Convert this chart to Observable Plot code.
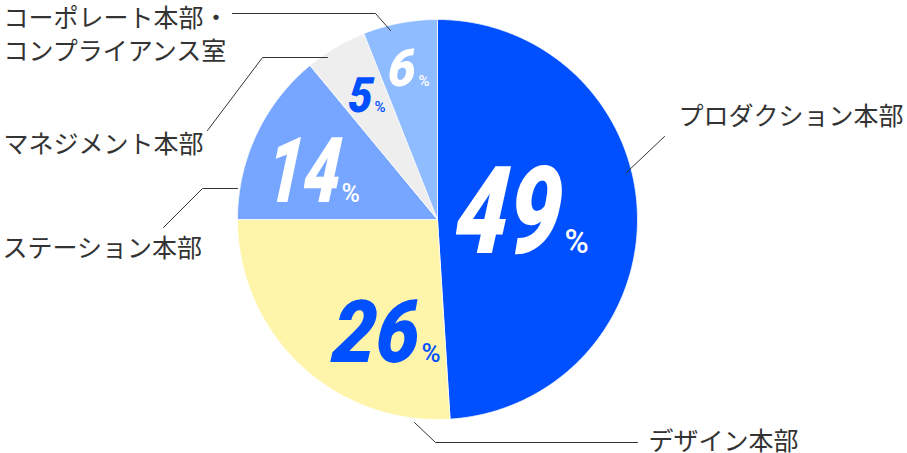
<!DOCTYPE html>
<html>
<head>
<meta charset="utf-8">
<script src="https://cdn.jsdelivr.net/npm/d3@7"></script>
<script src="https://cdn.jsdelivr.net/npm/@observablehq/plot@0.6"></script>
<style>
  html, body { margin: 0; padding: 0; background: #fff; }
  #chart svg { display: block; }
</style>
</head>
<body>
<div id="chart"></div>
<script>
// ---- data ----
const categories = ["プロダクション本部", "デザイン本部", "ステーション本部", "マネジメント本部", "コーポレート本部・\nコンプライアンス室"];
const shares = [49, 26, 14, 5, 6];
const sliceColors = ["#0050ff", "#fff5aa", "#76a6ff", "#eeeeee", "#8fbbff"];
const valueColors = ["#ffffff", "#0050ff", "#ffffff", "#0050ff", "#ffffff"];

// ---- layout (offsets from pie centre, pixels) ----
const R = 200;
const numberLayout = [
  {end: 121, base: 33, size: 122, sx: 0.77, pctSize: 33, gap: 6},
  {end: -20, base: 142, size: 87, sx: 0.89, pctSize: 26, gap: 4},
  {end: -99, base: -18, size: 91, sx: 0.72, pctSize: 25, gap: 3},
  {end: -66, base: -108, size: 49, sx: 0.88, pctSize: 15, gap: 3},
  {end: -23, base: -134, size: 52, sx: 0.95, pctSize: 15, gap: 4}
];
const leaderLayout = [
  [[189, -47], [227, -83]],
  [[-23, 203], [-2, 223], [200, 223]],
  [[-200, -31], [-235, -31], [-274, 8]],
  [[-110, -162], [-175, -162], [-230, -89]],
  [[-47, -189], [-62, -206], [-205, -206]]
];
const labelLayout = [
  {x: 241, y: -105},
  {x: 211, y: 220},
  {x: -435, y: 27},
  {x: -434, y: -77},
  {x: -434, y: -187}
];

// ---- derived ----
const total = d3.sum(shares);
const slices = [];
let acc = 0;
shares.forEach((v, i) => {
  const a0 = acc / total * 360, a1 = (acc + v) / total * 360;
  acc += v;
  const pts = [{k: i, x: 0, y: 0}];
  const n = Math.max(2, Math.ceil((a1 - a0) / 0.5));
  for (let j = 0; j <= n; j++) {
    const a = (a0 + (a1 - a0) * j / n) * Math.PI / 180;
    pts.push({k: i, x: R * Math.sin(a), y: -R * Math.cos(a)});
  }
  pts.push({k: i, x: 0, y: 0});
  pts.forEach(p => { p.fill = sliceColors[i]; slices.push(p); });
});

const leaders = leaderLayout.flatMap((pts, i) => pts.map(([x, y]) => ({k: i, x, y})));
const labels = categories.map((c, i) => ({text: c, ...labelLayout[i]}));
const nums = shares.map((v, i) => ({text: String(v), color: valueColors[i], ...numberLayout[i]}));

const numFont = "Roboto, sans-serif";

const marks = [
  Plot.line(slices, {x: "x", y: "y", z: "k", fill: "fill", stroke: "#ffffff", strokeWidth: 0.75, curve: "linear"}),
  Plot.line(leaders, {x: "x", y: "y", z: "k", stroke: "#333333", strokeWidth: 1}),
  Plot.text(labels, {x: "x", y: "y", text: "text", textAnchor: "start", lineAnchor: "middle", lineHeight: 1.32,
    fontSize: 25, fill: "#333333", fontFamily: "'Noto Sans CJK JP', sans-serif", fontWeight: 400})
];
nums.forEach((d, i) => {
  marks.push(Plot.text([d], {x: "end", y: "base", text: "text", textAnchor: "end", lineAnchor: "bottom",
    fill: d.color, fontSize: d.size, fontFamily: numFont, fontWeight: 900, fontStyle: "italic"}));
  marks.push(Plot.text([d], {x: e => e.end + e.gap, y: "base", text: () => "%", textAnchor: "start", lineAnchor: "bottom",
    fill: d.color, fontSize: d.pctSize, fontFamily: "Roboto, sans-serif", fontWeight: 500}));
});

const chart = Plot.plot({
  width: 907,
  height: 453,
  margin: 0,
  x: {domain: [-437, 470], range: [0, 907], axis: null},
  y: {domain: [-219, 234], range: [0, 453], axis: null},
  color: {type: "identity"},
  style: {background: "#ffffff"},
  marks
});
// condense + slant the big figures (about each text's anchor)
const scaleByText = new Map(nums.map(d => [d.text, d.sx]));
chart.querySelectorAll("text").forEach(el => {
  const sx = scaleByText.get(el.textContent.trim());
  if (sx == null) return;
  const t = el.getAttribute("transform");
  if (t) {
    el.setAttribute("transform", `${t} skewX(-5) scale(${sx},1)`);
  } else {
    const x = +el.getAttribute("x") || 0, y = +el.getAttribute("y") || 0;
    el.setAttribute("transform", `translate(${x},${y}) skewX(-5) scale(${sx},1) translate(${-x},${-y})`);
  }
});
document.getElementById("chart").appendChild(chart);
</script>
</body>
</html>
